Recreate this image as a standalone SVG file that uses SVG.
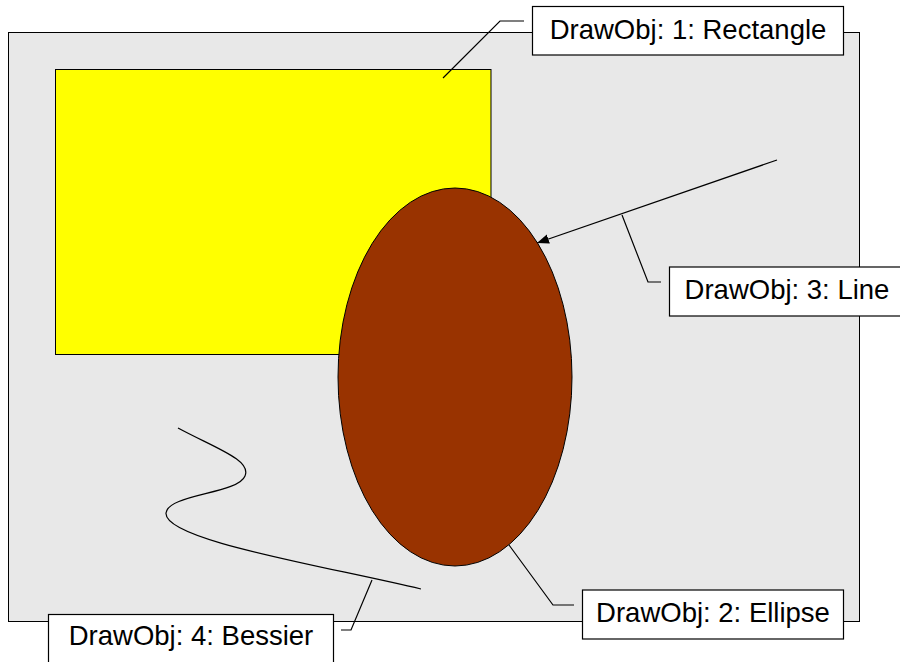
<svg xmlns="http://www.w3.org/2000/svg" width="900" height="662" viewBox="0 0 900 662">
<defs>
<style>
.shape{stroke:#000;stroke-width:1}
.conn{fill:none;stroke:#000;stroke-width:1.2}
.lbl rect{fill:#fff;stroke:#000;stroke-width:1.2}
.lbl text{font-family:"Liberation Sans",Arial,sans-serif;font-size:27.5px;fill:#000;text-anchor:middle}
</style>
<marker id="arr" viewBox="0 0 10 10" refX="10" refY="5" markerWidth="12" markerHeight="12" markerUnits="userSpaceOnUse" orient="auto"><path d="M0,1 L10,5 L0,9 Z" fill="#000"/></marker>
</defs>
<rect width="900" height="662" fill="#fff"/>
<g id="background"><rect class="shape" x="8.5" y="32.5" width="851" height="589" fill="#e8e8e8"/></g>
<g id="rectangle"><rect class="shape" x="55.5" y="69.5" width="435.5" height="285" fill="#ffff00"/></g>
<g id="ellipse"><ellipse class="shape" cx="455" cy="377" rx="117" ry="189" fill="#993300"/></g>
<g id="line"><line class="conn" x1="777" y1="160" x2="537" y2="243" marker-end="url(#arr)"/></g>
<g id="bezier"><path class="conn" d="M178,428 C215,448 252,460 245,476 C238,494 168,494 166,513 C164,540 320,565 421,589"/></g>
<g id="connectors">
<polyline class="conn" points="443,78 500,21 524,21"/>
<polyline class="conn" points="622,215 648,282 661,282"/>
<polyline class="conn" points="509,545 553,605 574,605"/>
<polyline class="conn" points="372,580 351,630 341,630"/>
</g>
<g id="label1" class="lbl"><rect x="532.5" y="6.5" width="311" height="48.5"/><text x="688" y="38.5">DrawObj: 1: Rectangle</text></g>
<g id="label3" class="lbl"><rect x="669.5" y="267" width="240" height="49"/><text x="787" y="298.5">DrawObj: 3: Line</text></g>
<g id="label2" class="lbl"><rect x="582.5" y="590" width="261" height="49"/><text x="713" y="621.5">DrawObj: 2: Ellipse</text></g>
<g id="label4" class="lbl"><rect x="48.5" y="614.5" width="285" height="60"/><text x="191" y="645">DrawObj: 4: Bessier</text></g>
</svg>
